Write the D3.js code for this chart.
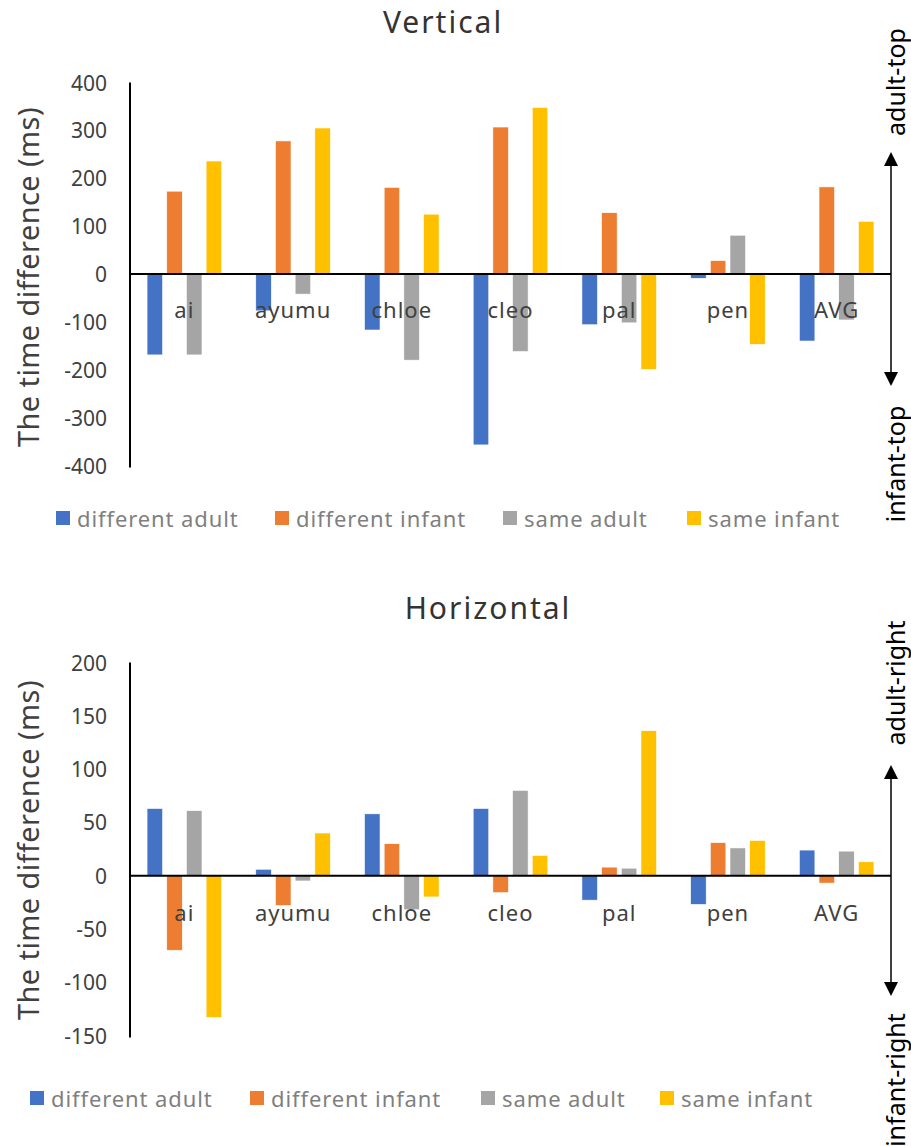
<!DOCTYPE html>
<html>
<head>
<meta charset="utf-8">
<script src="https://cdn.jsdelivr.net/npm/d3@7"></script>
<style>
  body { margin: 0; background: #fff; }
  svg { display: block; font-family: "Noto Sans", sans-serif; }
</style>
</head>
<body>
<svg id="chart" width="911" height="1146"></svg>
<script>
var svg = d3.select("#chart");

var subjects = ["ai", "ayumu", "chloe", "cleo", "pal", "pen", "AVG"];
var conditions = ["different adult", "different infant", "same adult", "same infant"];
var colors = ["#4472C4", "#ED7D31", "#A5A5A5", "#FFC000"];

// vertical values, one array per condition
var vertDiffAdult = [-169, -77, -117, -357, -106, -9, -140];
var vertDiffInfant = [173, 278, 181, 307, 128, 28, 182];
var vertSameAdult = [-169, -42, -180, -162, -102, 81, -96];
var vertSameInfant = [236, 305, 125, 348, -199, -147, 110];
var vertTicks = [400, 300, 200, 100, 0, -100, -200, -300, -400];

// horizontal values
var horDiffAdult = [63, 6, 58, 63, -23, -27, 24];
var horDiffInfant = [-70, -28, 30, -16, 8, 31, -7];
var horSameAdult = [61, -5, -32, 80, 7, 26, 23];
var horSameInfant = [-133, 40, -20, 19, 136, 33, 13];
var horTicks = [200, 150, 100, 50, 0, -50, -100, -150];

function drawPanel(opt){
	var g = svg.append("g");
	var series = opt.series;

	var x0 = d3.scaleBand().domain(subjects).range([130, 891]);
	var half = 37.3;
	var x1 = d3.scaleBand().domain(conditions)
		.range([x0.bandwidth()/2 - half, x0.bandwidth()/2 + half])
		.paddingInner(0.21);
	var y = d3.scaleLinear().domain(opt.domain).range(opt.range);

	// title
	g.append("text").attr("x", opt.titleX).attr("y", opt.titleY)
		.attr("text-anchor", "middle").attr("dominant-baseline", "central")
		.attr("font-size", 30).attr("letter-spacing", 2).attr("fill", "#333")
		.text(opt.title);

	// tick labels (no tick marks)
	g.selectAll(".tick").data(opt.ticks).enter().append("text")
		.attr("x", 107).attr("y", function(d){ return y(d); })
		.attr("text-anchor", "end").attr("dominant-baseline", "central")
		.attr("font-size", 21).attr("fill", "#404040")
		.text(function(d){ return d; });

	// bars
	var groups = g.selectAll(".grp").data(subjects).enter().append("g")
		.attr("transform", function(d){ return "translate(" + x0(d) + ",0)"; });
	groups.selectAll("rect").data(function(d, i){
		return conditions.map(function(c, k){ return {cond: c, k: k, v: series[k][i]}; });
	}).enter().append("rect")
		.attr("x", function(d){ return x1(d.cond); })
		.attr("width", x1.bandwidth())
		.attr("y", function(d){ return Math.min(y(0), y(d.v)); })
		.attr("height", function(d){ return Math.abs(y(d.v) - y(0)); })
		.attr("fill", function(d){ return colors[d.k]; })
		.attr("stroke", "#fff").attr("stroke-width", 0.6);

	// axes lines
	g.append("line").attr("x1", 130).attr("x2", 130)
		.attr("y1", opt.range[1]).attr("y2", opt.range[0] + 2)
		.attr("stroke", "#000").attr("stroke-width", 2);
	g.append("line").attr("x1", 130).attr("x2", 891)
		.attr("y1", y(0)).attr("y2", y(0))
		.attr("stroke", "#000").attr("stroke-width", 2);

	// category labels
	g.selectAll(".cat").data(subjects).enter().append("text")
		.attr("x", function(d){ return x0(d) + x0.bandwidth()/2; })
		.attr("y", opt.catY)
		.attr("text-anchor", "middle").attr("dominant-baseline", "central")
		.attr("font-size", 22).attr("letter-spacing", 1).attr("fill", "#404040")
		.text(function(d){ return d; });

	// y axis title
	g.append("text")
		.attr("transform", "translate(27," + opt.ylabY + ") rotate(-90)")
		.attr("text-anchor", "middle").attr("dominant-baseline", "central")
		.attr("font-size", 29).attr("letter-spacing", 0.4).attr("fill", "#404040")
		.text("The time difference (ms)");

	// direction arrow on the right
	var ax = 891;
	g.append("line").attr("x1", ax).attr("x2", ax)
		.attr("y1", opt.arrow[0] + 12).attr("y2", opt.arrow[1] - 12)
		.attr("stroke", "#000").attr("stroke-width", 1.5);
	g.append("path")
		.attr("d", "M" + ax + "," + opt.arrow[0] + "l-7,14h14z")
		.attr("fill", "#000");
	g.append("path")
		.attr("d", "M" + ax + "," + opt.arrow[1] + "l-7,-14h14z")
		.attr("fill", "#000");
	g.append("text")
		.attr("transform", "translate(895," + opt.upY + ") rotate(-90)")
		.attr("text-anchor", "middle").attr("dominant-baseline", "central")
		.attr("font-size", 25).attr("fill", "#000").text(opt.upLabel);
	g.append("text")
		.attr("transform", "translate(895," + opt.downY + ") rotate(-90)")
		.attr("text-anchor", "middle").attr("dominant-baseline", "central")
		.attr("font-size", 25).attr("fill", "#000").text(opt.downLabel);

	// legend
	var lg = g.selectAll(".leg").data(conditions).enter().append("g")
		.attr("transform", function(d, i){ return "translate(" + opt.legX[i] + "," + opt.legY + ")"; });
	lg.append("rect").attr("x", 0).attr("y", -7).attr("width", 14).attr("height", 14)
		.attr("fill", function(d, i){ return colors[i]; });
	lg.append("text").attr("x", 21).attr("y", 0)
		.attr("dominant-baseline", "central")
		.attr("font-size", 22).attr("letter-spacing", 0.9).attr("fill", "#7f7f7f")
		.text(function(d){ return d; });
}

drawPanel({
	title: "Vertical", titleX: 443, titleY: 21,
	series: [vertDiffAdult, vertDiffInfant, vertSameAdult, vertSameInfant],
	domain: [-400, 400], range: [465.5, 82.5], ticks: vertTicks,
	catY: 309, ylabY: 277,
	arrow: [152, 386], upY: 82, downY: 464,
	upLabel: "adult-top", downLabel: "infant-top",
	legX: [56, 275, 503, 687], legY: 518
});

drawPanel({
	title: "Horizontal", titleX: 488, titleY: 607,
	series: [horDiffAdult, horDiffInfant, horSameAdult, horSameInfant],
	domain: [-150, 200], range: [1035.5, 662.5], ticks: horTicks,
	catY: 912, ylabY: 850,
	arrow: [765, 996], upY: 683, downY: 1080,
	upLabel: "adult-right", downLabel: "infant-right",
	legX: [30, 250, 481, 660], legY: 1098
});
</script>
</body>
</html>
